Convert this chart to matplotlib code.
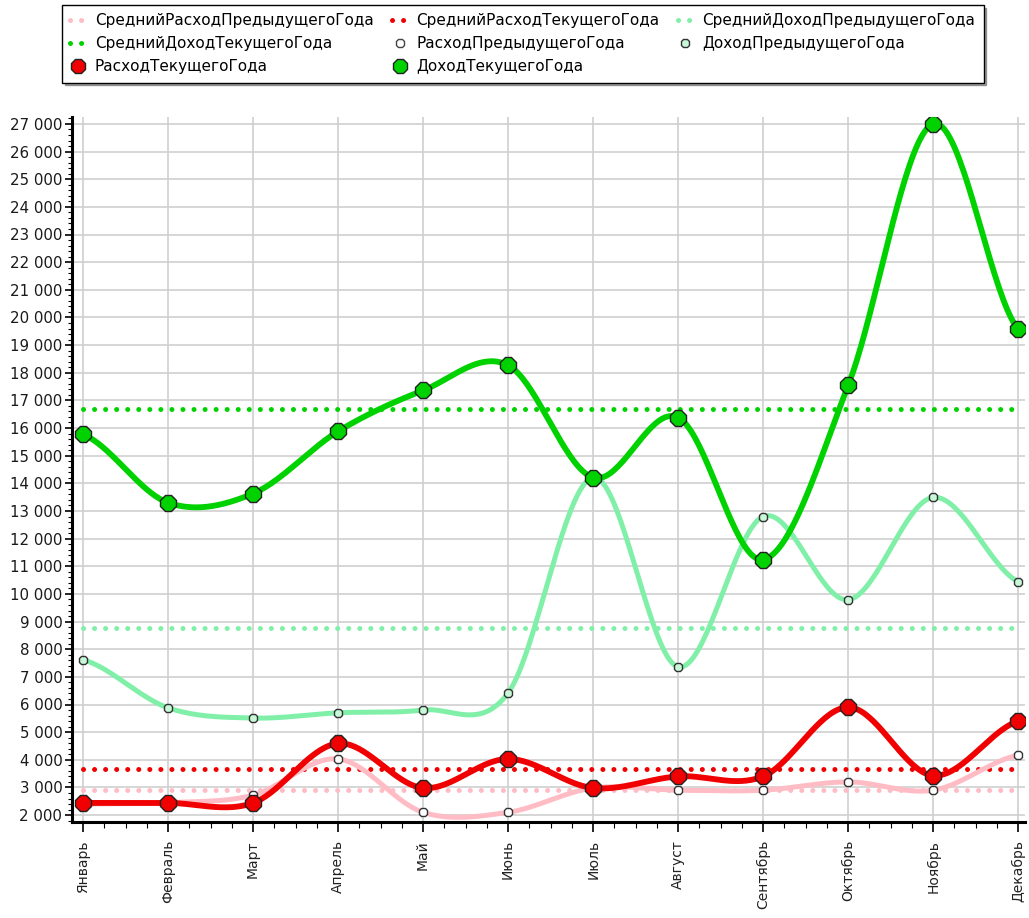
import numpy as np
import matplotlib
matplotlib.use("Agg")
import matplotlib.pyplot as plt
from matplotlib.lines import Line2D
from matplotlib.ticker import FuncFormatter, MultipleLocator, FixedLocator

plt.rcParams['font.family'] = ['DejaVu Sans']

months = ["Январь", "Февраль", "Март", "Апрель", "Май", "Июнь", "Июль",
          "Август", "Сентябрь", "Октябрь", "Ноябрь", "Декабрь"]
income_cur = [15770, 13300, 13630, 15880, 17360, 18270, 14210, 16380, 11240, 17540, 27000, 19570]
income_prev = [7620, 5880, 5510, 5700, 5800, 6420, 14210, 7360, 12800, 9790, 13490, 10440]
expense_cur = [2440, 2440, 2440, 4590, 2980, 4030, 2980, 3400, 3400, 5900, 3430, 5400]
expense_prev = [2400, 2450, 2720, 4030, 2100, 2100, 2980, 2900, 2900, 3200, 2900, 4170]
avg_expense_prev = 2900
avg_expense_cur = 3650
avg_income_prev = 8750
avg_income_cur = 16680

labels = ["СреднийРасходПредыдущегоГода", "СреднийРасходТекущегоГода",
          "СреднийДоходПредыдущегоГода", "СреднийДоходТекущегоГода",
          "РасходПредыдущегоГода", "ДоходПредыдущегоГода",
          "РасходТекущегоГода", "ДоходТекущегоГода"]

C_RED = '#F00000'
C_PINK = '#FFBCC4'
C_GREEN = '#00D200'
C_LGREEN = '#80F0A8'


def spline(vals, n=40):
    v = np.asarray(vals, float)
    ext = np.r_[v[0], v, v[-1]]
    xs, ys = [], []
    for i in range(len(v) - 1):
        p0, p1, p2, p3 = ext[i], ext[i + 1], ext[i + 2], ext[i + 3]
        m1 = (p2 - p0) / 2.0
        m2 = (p3 - p1) / 2.0
        t = np.linspace(0, 1, n, endpoint=(i == len(v) - 2))
        h00 = 2 * t**3 - 3 * t**2 + 1
        h10 = t**3 - 2 * t**2 + t
        h01 = -2 * t**3 + 3 * t**2
        h11 = t**3 - t**2
        xs.append(i + t)
        ys.append(h00 * p1 + h10 * m1 + h01 * p2 + h11 * m2)
    return np.concatenate(xs), np.concatenate(ys)


fig = plt.figure(figsize=(10.29, 9.18), dpi=100)
ax = fig.add_axes([72 / 1029, 1 - 822 / 918, (1025 - 72) / 1029, (822 - 117) / 918])

x = np.arange(len(months))
dot = (0, (0.01, 2.2))

# averages
for val, col in [(avg_expense_prev, C_PINK), (avg_income_prev, C_LGREEN),
                 (avg_income_cur, C_GREEN), (avg_expense_cur, C_RED)]:
    ax.plot([x[0], x[-1]], [val, val], color=col, lw=3.6, ls=dot,
            dash_capstyle='round', zorder=2)

# previous year
for vals, col in [(expense_prev, C_PINK), (income_prev, C_LGREEN)]:
    sx, sy = spline(vals)
    ax.plot(sx, sy, color=col, lw=3.6, zorder=3, solid_capstyle='round')
    ax.plot(x, vals, ls='none', marker='8', ms=7, mfc='white' if col == C_PINK else '#C8F8D8',
            mec='#333333', mew=1.0, zorder=5)

# current year
for vals, col in [(expense_cur, C_RED), (income_cur, C_GREEN)]:
    sx, sy = spline(vals)
    ax.plot(sx, sy, color=col, lw=4.2, zorder=4, solid_capstyle='round')
    ax.plot(x, vals, ls='none', marker='8', ms=12, mfc=col, mec='#222222', mew=1.0, zorder=6)

ax.set_xlim(-0.13, 11.08)
ax.set_ylim(1750, 27250)
ax.xaxis.set_major_locator(FixedLocator(x))
ax.xaxis.set_minor_locator(MultipleLocator(0.25))
ax.set_xticklabels(months, rotation=90, fontsize=10, color='#222222')
ax.yaxis.set_major_locator(FixedLocator(np.arange(2000, 27001, 1000)))
ax.yaxis.set_minor_locator(MultipleLocator(200))
ax.yaxis.set_major_formatter(FuncFormatter(lambda v, p: f"{int(v):,}".replace(",", " ")))
ax.tick_params(axis='y', which='major', length=5, width=1.2, labelsize=10.8, labelcolor='#1A1A1A', pad=2)
ax.tick_params(axis='y', which='minor', length=3, width=0.8)
ax.tick_params(axis='x', which='major', length=7, width=1.2, pad=6)
ax.tick_params(axis='x', which='minor', length=4, width=0.8)

ax.grid(True, which='major', color='#CFCFCF', lw=1.2, zorder=0)
ax.set_axisbelow(True)
for s in ['top', 'right']:
    ax.spines[s].set_visible(False)
for s in ['left', 'bottom']:
    ax.spines[s].set_linewidth(2.2)
    ax.spines[s].set_color('black')

# legend
def avg_handle(col):
    return Line2D([], [], color=col, lw=3.6, ls=dot, dash_capstyle='round')

h = {
    labels[0]: avg_handle(C_PINK),
    labels[1]: avg_handle(C_RED),
    labels[2]: avg_handle(C_LGREEN),
    labels[3]: avg_handle(C_GREEN),
    labels[4]: Line2D([], [], ls='none', marker='8', ms=6, mfc='white', mec='#444444', mew=1.0),
    labels[5]: Line2D([], [], ls='none', marker='8', ms=6, mfc='#C8F8D8', mec='#333333', mew=1.0),
    labels[6]: Line2D([], [], ls='none', marker='8', ms=11, mfc=C_RED, mec='#222222', mew=1.0),
    labels[7]: Line2D([], [], ls='none', marker='8', ms=11, mfc=C_GREEN, mec='#222222', mew=1.0),
}
order = [labels[0], labels[3], labels[6], labels[1], labels[4], labels[7], labels[2], labels[5]]
leg = fig.legend([h[k] for k in order], order, ncol=3, loc='upper left',
                 bbox_to_anchor=(62 / 1029, 1 - 5 / 918), fontsize=11,
                 frameon=True, fancybox=False, shadow=True, edgecolor='black',
                 handlelength=1.0, handletextpad=0.6, columnspacing=1.2,
                 labelspacing=0.52, borderpad=0.55, borderaxespad=0)
leg.get_frame().set_linewidth(1.0)

fig.savefig("out.png", dpi=100)
